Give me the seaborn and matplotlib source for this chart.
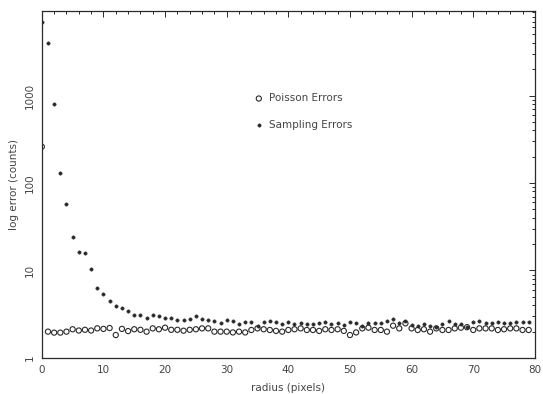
import numpy as np
import pandas as pd
import matplotlib
matplotlib.use("Agg")
import matplotlib.pyplot as plt
import seaborn as sns
from matplotlib.ticker import FixedLocator, LogLocator, MultipleLocator, NullFormatter

radius = list(range(80))

sampling = [6900, 4000, 800, 130, 57, 24, 16.3, 16, 10.4, 6.3,
            5.4, 4.5, 3.9, 3.76, 3.4, 3.1, 3.1, 2.84, 3.1, 3.05,
            2.84, 2.9, 2.72, 2.72, 2.77, 3.0, 2.8, 2.72, 2.65, 2.5,
            2.72, 2.68, 2.45, 2.6, 2.56, 2.34, 2.56, 2.68, 2.6, 2.43,
            2.6, 2.43, 2.53, 2.43, 2.43, 2.5, 2.6, 2.43, 2.5, 2.4,
            2.6, 2.5, 2.3, 2.5, 2.5, 2.53, 2.65, 2.8, 2.5, 2.65,
            2.4, 2.3, 2.43, 2.34, 2.28, 2.43, 2.65, 2.43, 2.43, 2.28,
            2.6, 2.65, 2.49, 2.49, 2.6, 2.49, 2.49, 2.56, 2.56, 2.56]

poisson = [260, 2.0, 1.95, 1.95, 2.0, 2.13, 2.06, 2.1, 2.06, 2.18,
           2.15, 2.2, 1.83, 2.15, 2.03, 2.13, 2.1, 2.0, 2.18, 2.13,
           2.22, 2.1, 2.1, 2.05, 2.1, 2.13, 2.18, 2.18, 2.0, 2.0,
           2.0, 1.96, 2.0, 1.96, 2.09, 2.18, 2.13, 2.09, 2.04, 2.0,
           2.09, 2.13, 2.18, 2.09, 2.09, 2.04, 2.13, 2.09, 2.13, 2.04,
           1.83, 1.96, 2.18, 2.22, 2.09, 2.09, 2.0, 2.34, 2.18, 2.49,
           2.18, 2.09, 2.13, 2.0, 2.18, 2.09, 2.09, 2.18, 2.22, 2.25,
           2.09, 2.18, 2.18, 2.18, 2.09, 2.13, 2.18, 2.18, 2.09, 2.09]

x_ticks = [0, 10, 20, 30, 40, 50, 60, 70, 80]
y_ticks = [1, 10, 100, 1000]
y_ticklabels = ["1", "10", "100", "1000"]

df = pd.DataFrame({"radius": radius, "Poisson Errors": poisson, "Sampling Errors": sampling})

sns.set_style("white")
plt.rcParams["font.family"] = ["DejaVu Sans"]
ink = "#2a2a2a"
txt = "#444444"

fig = plt.figure(figsize=(5.43, 3.94), dpi=100)
ax = fig.add_axes([0.077, 0.0914, 0.908, 0.8806])

sns.scatterplot(data=df, x="radius", y="Poisson Errors", ax=ax, marker="o",
                s=14, facecolors="none", edgecolor=ink, linewidth=0.8,
                label="Poisson Errors")
sns.scatterplot(data=df, x="radius", y="Sampling Errors", ax=ax, marker="o",
                s=6, color=ink, edgecolor=ink, linewidth=0.3,
                label="Sampling Errors")

ax.set_yscale("log")
ax.set_xlim(0, 80)
ax.set_ylim(1, 9240)
ax.xaxis.set_major_locator(FixedLocator(x_ticks))
ax.xaxis.set_minor_locator(MultipleLocator(2))
ax.yaxis.set_major_locator(FixedLocator(y_ticks))
ax.set_yticklabels(y_ticklabels, rotation=90, va="center")
ax.yaxis.set_minor_locator(LogLocator(base=10, subs=np.arange(2, 10)))
ax.yaxis.set_minor_formatter(NullFormatter())

ax.tick_params(which="both", direction="in", top=True, right=True,
               colors=ink, labelsize=7.5, labelcolor=txt, width=0.7)
ax.tick_params(which="major", length=4, pad=5)
ax.tick_params(which="minor", length=2)
for sp in ax.spines.values():
    sp.set_color(ink)
    sp.set_linewidth(0.9)

ax.set_xlabel("radius (pixels)", fontsize=7.5, color=txt, labelpad=6)
ax.set_ylabel("log error (counts)", fontsize=7.5, color=txt, labelpad=4)

ax.legend(loc="upper left", bbox_to_anchor=(0.40, 0.79), frameon=False,
          fontsize=7.5, handletextpad=0.0, labelspacing=1.6, markerscale=1.0,
          labelcolor=txt)

fig.savefig("out.png", dpi=100)
